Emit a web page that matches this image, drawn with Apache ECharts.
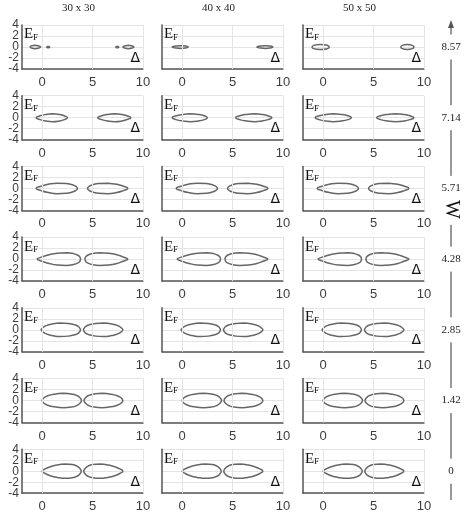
<!DOCTYPE html>
<html>
<head>
<meta charset="utf-8">
<script src="https://cdn.jsdelivr.net/npm/echarts@6/dist/echarts.min.js"></script>
<style>
  html, body { margin: 0; padding: 0; background: #fff; }
  #chart { width: 468px; height: 516px; }
</style>
</head>
<body>
<div id="chart"></div>
<script>
// column titles (lattice size) and the W value of each row, top to bottom
const colTitles = ['30 x 30', '40 x 40', '50 x 50']
const wLabels = ['8.57', '7.14', '5.71', '4.28', '2.85', '1.42', '0']
const xTickValues = [0, 5, 10]
const yTickValues = [-4, -2, 0, 2, 4]
const xGridValues = [0, 5, 10]

// upper half of each closed curve, [delta, E] from left tip to right tip
// W = 8.57
const w857a30 = [[-1.2, 0], [-1.0, 0.22], [-0.7, 0.3], [-0.4, 0.22], [-0.15, 0]]
const w857b30 = [[0.45, 0], [0.6, 0.15], [0.75, 0]]
const w857c30 = [[7.3, 0], [7.45, 0.15], [7.6, 0]]
const w857d30 = [[8.0, 0], [8.25, 0.22], [8.55, 0.3], [8.85, 0.22], [9.1, 0]]
const w857a40 = [[-1.0, 0], [-0.6, 0.2], [-0.1, 0.25], [0.3, 0.2], [0.6, 0]]
const w857b40 = [[7.4, 0], [7.8, 0.2], [8.3, 0.25], [8.7, 0.2], [9.0, 0]]
const w857a50 = [[-1.1, 0], [-0.95, 0.3], [-0.3, 0.45], [0.4, 0.3], [0.6, 0]]
const w857b50 = [[7.7, 0], [7.85, 0.3], [8.35, 0.45], [8.85, 0.3], [9.0, 0]]
// W = 7.14
const w714a30 = [[-0.6, 0], [-0.2, 0.35], [0.4, 0.6], [1.0, 0.72], [1.7, 0.6], [2.2, 0.35], [2.5, 0]]
const w714b30 = [[5.5, 0], [5.9, 0.35], [6.5, 0.6], [7.2, 0.72], [7.9, 0.6], [8.4, 0.35], [8.8, 0]]
const w714a40 = [[-1.0, 0], [-0.6, 0.35], [0.1, 0.6], [0.8, 0.72], [1.6, 0.6], [2.2, 0.35], [2.5, 0]]
const w714b40 = [[5.3, 0], [5.7, 0.35], [6.4, 0.6], [7.2, 0.72], [7.9, 0.6], [8.5, 0.35], [8.9, 0]]
const w714a50 = [[-0.8, 0], [-0.4, 0.35], [0.3, 0.6], [1.0, 0.72], [1.8, 0.6], [2.45, 0.35], [2.8, 0]]
const w714b50 = [[5.3, 0], [5.7, 0.35], [6.4, 0.6], [7.2, 0.72], [8.0, 0.6], [8.6, 0.35], [9.0, 0]]
// W = 5.71
const w571a = [[-0.6, 0], [-0.1, 0.4], [0.6, 0.75], [1.5, 0.95], [2.4, 0.9], [3.0, 0.65], [3.35, 0.35], [3.5, 0]]
const w571b = [[4.5, 0], [4.65, 0.35], [5.0, 0.65], [5.6, 0.9], [6.5, 0.95], [7.4, 0.75], [8.05, 0.4], [8.5, 0]]
// W = 4.28
const w428a = [[-0.5, 0], [0.0, 0.4], [0.7, 0.8], [1.5, 1.07], [2.4, 1.15], [3.1, 1.0], [3.55, 0.7], [3.75, 0.35], [3.8, 0]]
const w428b = [[4.25, 0], [4.3, 0.35], [4.5, 0.7], [4.95, 1.0], [5.7, 1.15], [6.6, 1.07], [7.4, 0.8], [8.0, 0.4], [8.5, 0]]
// W = 2.85
const w285a = [[-0.1, 0], [0.05, 0.35], [0.4, 0.75], [1.0, 1.05], [1.8, 1.22], [2.6, 1.15], [3.25, 0.9], [3.62, 0.55], [3.8, 0]]
const w285b = [[4.1, 0], [4.28, 0.55], [4.65, 0.9], [5.3, 1.15], [6.1, 1.22], [6.9, 1.05], [7.5, 0.75], [7.85, 0.35], [8.0, 0]]
// W = 1.42
const w142a = [[0.0, 0], [0.15, 0.45], [0.55, 0.85], [1.2, 1.15], [2.1, 1.3], [2.9, 1.2], [3.45, 0.9], [3.75, 0.5], [3.9, 0]]
const w142b = [[4.15, 0], [4.3, 0.5], [4.6, 0.9], [5.15, 1.2], [5.95, 1.3], [6.8, 1.15], [7.45, 0.85], [7.85, 0.45], [8.0, 0]]
// W = 0
const w000a = [[0.0, 0], [0.3, 0.42], [0.8, 0.82], [1.5, 1.13], [2.3, 1.3], [3.0, 1.2], [3.45, 0.92], [3.74, 0.5], [3.87, 0]]
const w000b = [[4.13, 0], [4.26, 0.5], [4.55, 0.92], [5.0, 1.2], [5.7, 1.3], [6.5, 1.13], [7.2, 0.82], [7.7, 0.42], [8.0, 0]]

// rows top -> bottom, columns 30/40/50
const panelCurves = [
  [[w857a30, w857b30, w857c30, w857d30], [w857a40, w857b40], [w857a50, w857b50]],
  [[w714a30, w714b30], [w714a40, w714b40], [w714a50, w714b50]],
  [[w571a, w571b], [w571a, w571b], [w571a, w571b]],
  [[w428a, w428b], [w428a, w428b], [w428a, w428b]],
  [[w285a, w285b], [w285a, w285b], [w285a, w285b]],
  [[w142a, w142b], [w142a, w142b], [w142a, w142b]],
  [[w000a, w000b], [w000a, w000b], [w000a, w000b]]
]

// layout
const colLeft = [22, 162, 303]
const plotW = 121
const plotH = 44
const rowCenter = r => 47 + r * 70.7

// close the curve: upper half, then mirrored lower half, starting mid-top
function ring (upper) {
  const lower = upper.slice(1, -1).reverse().map(p => [p[0], -p[1]])
  const loop = upper.concat(lower)
  const k = Math.floor(upper.length / 2)
  const out = loop.slice(k).concat(loop.slice(0, k))
  out.push(out[0])
  return out
}

// y labels sit very close together, so they are split over two axes
// (one drawing the axis line and grid, one only adding labels) so none get hidden
function yAxisFor (idx, showLabels, values, main) {
  return {
    gridIndex: idx,
    type: 'value',
    min: -4,
    max: 4,
    interval: 2,
    position: 'left',
    axisLine: { show: main, onZero: false, lineStyle: { color: '#555', width: 1.5 } },
    axisTick: { show: false },
    splitLine: { show: main, lineStyle: { color: '#e4e4e4', width: 1 } },
    axisLabel: {
      show: showLabels,
      customValues: values,
      color: '#3c3c3c',
      fontSize: 12,
      fontFamily: 'Liberation Sans',
      margin: 3
    }
  }
}

const grids = []
const xAxes = []
const yAxes = []
const series = []
const graphics = []

for (let r = 0; r < 7; r++) {
  for (let c = 0; c < 3; c++) {
    const idx = r * 3 + c
    const top = rowCenter(r) - plotH / 2
    const left = colLeft[c]
    grids.push({ left: left, top: top, width: plotW, height: plotH })
    xAxes.push({
      gridIndex: idx,
      type: 'value',
      min: -2,
      max: 10,
      axisLine: { show: true, onZero: false, lineStyle: { color: '#555', width: 1.5 } },
      axisTick: { show: false },
      splitLine: { show: false },
      axisLabel: {
        customValues: xTickValues,
        color: '#3c3c3c',
        fontSize: 13,
        fontFamily: 'Liberation Sans',
        margin: 7
      }
    })
    yAxes.push(yAxisFor(idx, c === 0, yTickValues.filter((v, i) => i % 2 === 0), true))
    yAxes.push(yAxisFor(idx, c === 0, yTickValues.filter((v, i) => i % 2 === 1), false))
    panelCurves[r][c].forEach((upper, j) => {
      const s = {
        type: 'line',
        xAxisIndex: idx,
        yAxisIndex: idx * 2,
        data: ring(upper),
        smooth: 0.5,
        symbol: 'none',
        silent: true,
        lineStyle: { color: '#666', width: 1.5 }
      }
      if (j === 0) {
        s.markLine = {
          silent: true,
          symbol: 'none',
          label: { show: false },
          lineStyle: { color: '#e4e4e4', type: 'solid', width: 1 },
          data: xGridValues.map(v => ({ xAxis: v }))
        }
      }
      series.push(s)
    })
    // E_F label
    graphics.push({
      type: 'text', x: left + 2, y: top + 2, z: 10,
      style: { text: 'E', font: '15px "Liberation Serif"', fill: '#111', verticalAlign: 'top' }
    })
    graphics.push({
      type: 'text', x: left + 11, y: top + 8, z: 10,
      style: { text: 'F', font: '9px "Liberation Serif"', fill: '#111', verticalAlign: 'top' }
    })
    // Delta label
    graphics.push({
      type: 'text', x: left + plotW - 3, y: top + plotH - 4, z: 10,
      style: { text: '\u0394', font: '14px "DejaVu Sans"', fill: '#111', align: 'right', verticalAlign: 'bottom' }
    })
  }
}

// column titles
colTitles.forEach((t, c) => {
  graphics.push({
    type: 'text',
    x: colLeft[c] + plotW / 2 - 4,
    y: 8,
    style: { text: t, font: '11px "Liberation Serif"', fill: '#222', align: 'center', verticalAlign: 'middle' }
  })
})

// W axis on the right
const wx = 451
graphics.push({
  type: 'line', z: 1,
  shape: { x1: wx, y1: 26, x2: wx, y2: 500 },
  style: { stroke: '#777', lineWidth: 1.5 }
})
graphics.push({
  type: 'polygon', z: 1,
  shape: { points: [[wx - 3, 28], [wx + 3, 28], [wx, 20]] },
  style: { fill: '#555' }
})
wLabels.forEach((t, r) => {
  graphics.push({
    type: 'text', z: 2,
    x: wx, y: rowCenter(r),
    style: {
      text: t, font: '11px "Liberation Serif"', fill: '#222',
      align: 'center', verticalAlign: 'middle',
      backgroundColor: '#fff', padding: [7, 2]
    }
  })
})
graphics.push({
  type: 'text', z: 2,
  x: wx, y: rowCenter(2) + 21,
  rotation: -Math.PI / 2,
  style: {
    text: 'W', font: '20px "Liberation Serif"', fill: '#111',
    align: 'center', verticalAlign: 'middle',
    backgroundColor: '#fff', padding: [0, 6]
  }
})

const chart = echarts.init(document.getElementById('chart'))
chart.setOption({
  animation: false,
  grid: grids,
  xAxis: xAxes,
  yAxis: yAxes,
  series: series,
  graphic: graphics
})
</script>
</body>
</html>
